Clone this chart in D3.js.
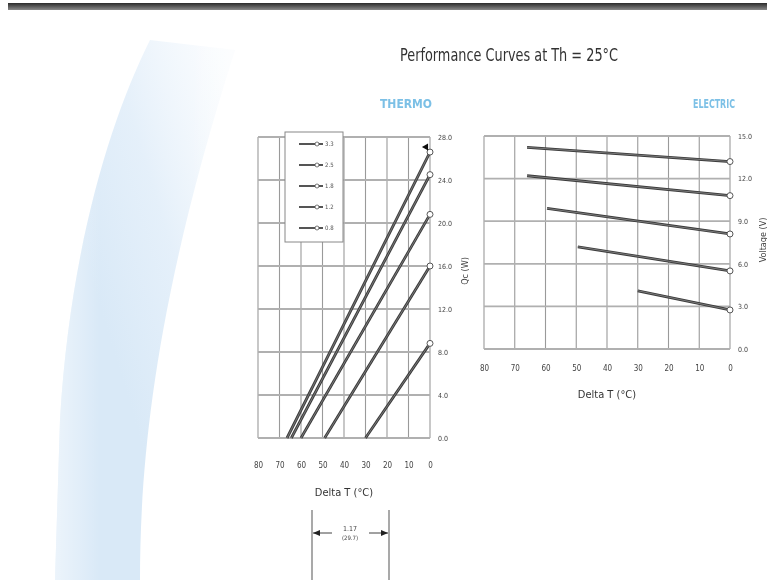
<!DOCTYPE html>
<html>
<head>
<meta charset="utf-8">
<script src="https://cdn.jsdelivr.net/npm/d3@7"></script>
<style>
  body { margin: 0; background: #fff; }
  text { font-family: "Liberation Sans Narrow", "DejaVu Sans Condensed", sans-serif; }
</style>
</head>
<body>
<div class="chart"></div>
<script>
// Data
const deltaTicks = [80, 70, 60, 50, 40, 30, 20, 10, 0];
const qcTicks = [0, 4, 8, 12, 16, 20, 24, 28];
const voltTicks = [0, 3, 6, 9, 12, 15];
const currents = ['3.3', '2.5', '1.8', '1.2', '0.8'];

// thermo lines: [deltaT, Qc] start (Qc = 0) and end (deltaT = 0)
const thermoLines = [
    [[66.5, 0], [0, 26.6]],
    [[64.5, 0], [0, 24.5]],
    [[60, 0], [0, 20.8]],
    [[49, 0], [0, 16.0]],
    [[30, 0], [0, 8.8]]
];

// electric lines: [deltaT, V]
const electricLines = [
    [[66, 14.2], [0, 13.2]],
    [[66, 12.2], [0, 10.8]],
    [[59.5, 9.9], [0, 8.1]],
    [[49.5, 7.2], [0, 5.5]],
    [[30, 4.1], [0, 2.75]]
];

const width = 767, height = 580;

const svg = d3.select('.chart')
    .append('svg')
    .attr('width', width)
    .attr('height', height);

const defs = svg.append('defs');
const blur = defs.append('filter').attr('id', 'soft');
blur.append('feGaussianBlur').attr('stdDeviation', 0.45);

// background swoosh: faint at the top right, stronger lower down
const grad = defs.append('linearGradient')
    .attr('id', 'swoosh')
    .attr('x1', 0.9).attr('y1', 0).attr('x2', 0.3).attr('y2', 0.55);
grad.append('stop').attr('offset', '0%').attr('stop-color', '#eef5fc').attr('stop-opacity', 0.3);
grad.append('stop').attr('offset', '55%').attr('stop-color', '#e0edf9').attr('stop-opacity', 0.85);
grad.append('stop').attr('offset', '100%').attr('stop-color', '#d9e9f7').attr('stop-opacity', 1);

const edge = defs.append('linearGradient')
    .attr('id', 'swooshEdge').attr('x1', 0).attr('x2', 1).attr('y1', 0).attr('y2', 0);
edge.append('stop').attr('offset', '0%').attr('stop-color', '#fff').attr('stop-opacity', 0.5);
edge.append('stop').attr('offset', '25%').attr('stop-color', '#fff').attr('stop-opacity', 0);
edge.append('stop').attr('offset', '75%').attr('stop-color', '#fff').attr('stop-opacity', 0);
edge.append('stop').attr('offset', '100%').attr('stop-color', '#fff').attr('stop-opacity', 0.4);

const topGrad = defs.append('linearGradient')
    .attr('id', 'topbar').attr('x1', 0).attr('x2', 0).attr('y1', 0).attr('y2', 1);
topGrad.append('stop').attr('offset', '0%').attr('stop-color', '#2a2a2a');
topGrad.append('stop').attr('offset', '100%').attr('stop-color', '#8a8a8a');

// Background
const swooshPath = 'M150,40 C110,120 70,250 60,420 L55,580 L140,580 C140,460 155,300 235,50 Z';
svg.append('path').attr('d', swooshPath).attr('fill', 'url(#swoosh)');
svg.append('path').attr('d', swooshPath).attr('fill', 'url(#swooshEdge)');

svg.append('rect')
    .attr('x', 8).attr('y', 3).attr('width', width - 8).attr('height', 7)
    .attr('fill', 'url(#topbar)');

const root = svg.append('g').attr('filter', 'url(#soft)');

// Titles
root.append('text')
    .attr('x', 400).attr('y', 61)
    .attr('font-size', 17)
    .attr('textLength', 218)
    .attr('lengthAdjust', 'spacingAndGlyphs')
    .attr('fill', '#333')
    .text('Performance Curves at Th = 25°C');

root.append('text')
    .attr('x', 380).attr('y', 108)
    .attr('font-size', 12).attr('font-weight', 'bold')
    .attr('textLength', 52)
    .attr('lengthAdjust', 'spacingAndGlyphs')
    .attr('fill', '#7cc0e6')
    .text('THERMO');

root.append('text')
    .attr('x', 693).attr('y', 108)
    .attr('font-size', 12).attr('font-weight', 'bold')
    .attr('textLength', 42)
    .attr('lengthAdjust', 'spacingAndGlyphs')
    .attr('fill', '#7cc0e6')
    .text('ELECTRIC');

function drawPanel(opts) {
    const g = root.append('g');

    const x = d3.scaleLinear().domain([80, 0]).range([opts.left, opts.right]);
    const y = d3.scaleLinear().domain([0, opts.yMax]).range([opts.bottom, opts.top]);

    // Grid
    g.selectAll('.vgrid')
        .data(deltaTicks)
        .enter()
        .append('line')
        .attr('x1', d => x(d)).attr('x2', d => x(d))
        .attr('y1', opts.top).attr('y2', opts.bottom)
        .attr('stroke', '#9a9a9a')
        .attr('stroke-width', 1.1);

    g.selectAll('.hgrid')
        .data(opts.yTicks)
        .enter()
        .append('line')
        .attr('x1', opts.left).attr('x2', opts.right)
        .attr('y1', d => y(d)).attr('y2', d => y(d))
        .attr('stroke', '#b0b0b0')
        .attr('stroke-width', 1.8);

    // Axes
    const xAxis = d3.axisBottom(x)
        .tickValues(deltaTicks)
        .tickSize(0)
        .tickFormat(d3.format('d'));

    const xAxisDraw = g.append('g')
        .attr('transform', `translate(0,${opts.bottom + opts.tickGap})`)
        .call(xAxis);
    xAxisDraw.select('.domain').remove();
    xAxisDraw.selectAll('text')
        .attr('font-size', 8).attr('fill', '#444')
        .attr('font-family', '"Liberation Sans Narrow", sans-serif');

    const yAxis = d3.axisRight(y)
        .tickValues(opts.yTicks)
        .tickSize(0)
        .tickFormat(d3.format('.1f'));

    const yAxisDraw = g.append('g')
        .attr('transform', `translate(${opts.right + 5},0)`)
        .call(yAxis);
    yAxisDraw.select('.domain').remove();
    yAxisDraw.selectAll('text')
        .attr('font-size', 7).attr('fill', '#444')
        .attr('font-family', '"Liberation Sans Narrow", sans-serif');

    g.append('text')
        .attr('x', (opts.left + opts.right) / 2)
        .attr('y', opts.bottom + opts.titleGap)
        .attr('text-anchor', 'middle')
        .attr('font-size', 11).attr('fill', '#333')
        .text('Delta T (°C)');

    g.append('text')
        .attr('transform', `translate(${opts.labelX},${opts.labelY}) rotate(-90)`)
        .attr('text-anchor', 'middle')
        .attr('dy', '0.35em')
        .attr('font-size', 9).attr('fill', '#444')
        .text(opts.yLabel);

    // Curves
    const line = d3.line().x(d => x(d[0])).y(d => y(d[1]));

    g.selectAll('.curve')
        .data(opts.lines)
        .enter()
        .append('path')
        .attr('d', line)
        .attr('fill', 'none')
        .attr('stroke', '#3a3a3a')
        .attr('stroke-width', 2.8);

    g.selectAll('.curve-core')
        .data(opts.lines)
        .enter()
        .append('path')
        .attr('d', line)
        .attr('fill', 'none')
        .attr('stroke', '#8a8a8a')
        .attr('stroke-width', 0.8);

    g.selectAll('.end')
        .data(opts.lines)
        .enter()
        .append('circle')
        .attr('cx', d => x(d[1][0]))
        .attr('cy', d => y(d[1][1]))
        .attr('r', 3)
        .attr('fill', '#fff')
        .attr('stroke', '#555')
        .attr('stroke-width', 1);

    return { g, x, y };
}

const thermo = drawPanel({
    left: 258, right: 430, top: 137, bottom: 438,
    yMax: 28, yTicks: qcTicks,
    lines: thermoLines,
    tickGap: 21, titleGap: 58,
    yLabel: 'Qc (W)', labelX: 465, labelY: 271
});

// black arrow tip on the top thermo curve
const tip = thermoLines[0][1];
thermo.g.append('path')
    .attr('d', d3.symbol().type(d3.symbolTriangle).size(22))
    .attr('transform', `translate(${thermo.x(tip[0]) - 4},${thermo.y(tip[1]) - 5}) rotate(30)`)
    .attr('fill', '#111');

// Legend
const legend = thermo.g.append('g').attr('transform', 'translate(285,132)');
legend.append('rect')
    .attr('width', 58).attr('height', 110)
    .attr('fill', '#fff')
    .attr('stroke', '#888').attr('stroke-width', 1);

const legendY = d3.scalePoint().domain(currents).range([12, 96]);
const item = legend.selectAll('.item')
    .data(currents)
    .enter()
    .append('g')
    .attr('transform', d => `translate(0,${legendY(d)})`);
item.append('line')
    .attr('x1', 14).attr('x2', 38)
    .attr('stroke', '#555').attr('stroke-width', 2);
item.append('circle')
    .attr('cx', 32).attr('r', 2)
    .attr('fill', '#fff').attr('stroke', '#555').attr('stroke-width', 0.8);
item.append('text')
    .attr('x', 40).attr('dy', '0.35em')
    .attr('font-size', 6).attr('fill', '#555')
    .text(d => d);

drawPanel({
    left: 484, right: 730, top: 136, bottom: 349,
    yMax: 15, yTicks: voltTicks,
    lines: electricLines,
    tickGap: 13, titleGap: 49,
    yLabel: 'Voltage (V)', labelX: 763, labelY: 240
});

// Dimension drawing at the bottom
const dim = root.append('g');
dim.selectAll('.dimline')
    .data([312, 389])
    .enter()
    .append('line')
    .attr('x1', d => d).attr('x2', d => d)
    .attr('y1', 510).attr('y2', 580)
    .attr('stroke', '#555').attr('stroke-width', 1);
dim.append('line')
    .attr('x1', 313).attr('x2', 332).attr('y1', 533).attr('y2', 533)
    .attr('stroke', '#444').attr('stroke-width', 1);
dim.append('line')
    .attr('x1', 369).attr('x2', 388).attr('y1', 533).attr('y2', 533)
    .attr('stroke', '#444').attr('stroke-width', 1);
dim.append('path')
    .attr('d', 'M313,533 L320,530 L320,536 Z M388,533 L381,530 L381,536 Z')
    .attr('fill', '#222');
dim.append('text')
    .attr('x', 350).attr('y', 531)
    .attr('text-anchor', 'middle')
    .attr('font-size', 7).attr('fill', '#444')
    .text('1.17');
dim.append('text')
    .attr('x', 350).attr('y', 540)
    .attr('text-anchor', 'middle')
    .attr('font-size', 6).attr('fill', '#444')
    .text('(29.7)');
</script>
</body>
</html>
